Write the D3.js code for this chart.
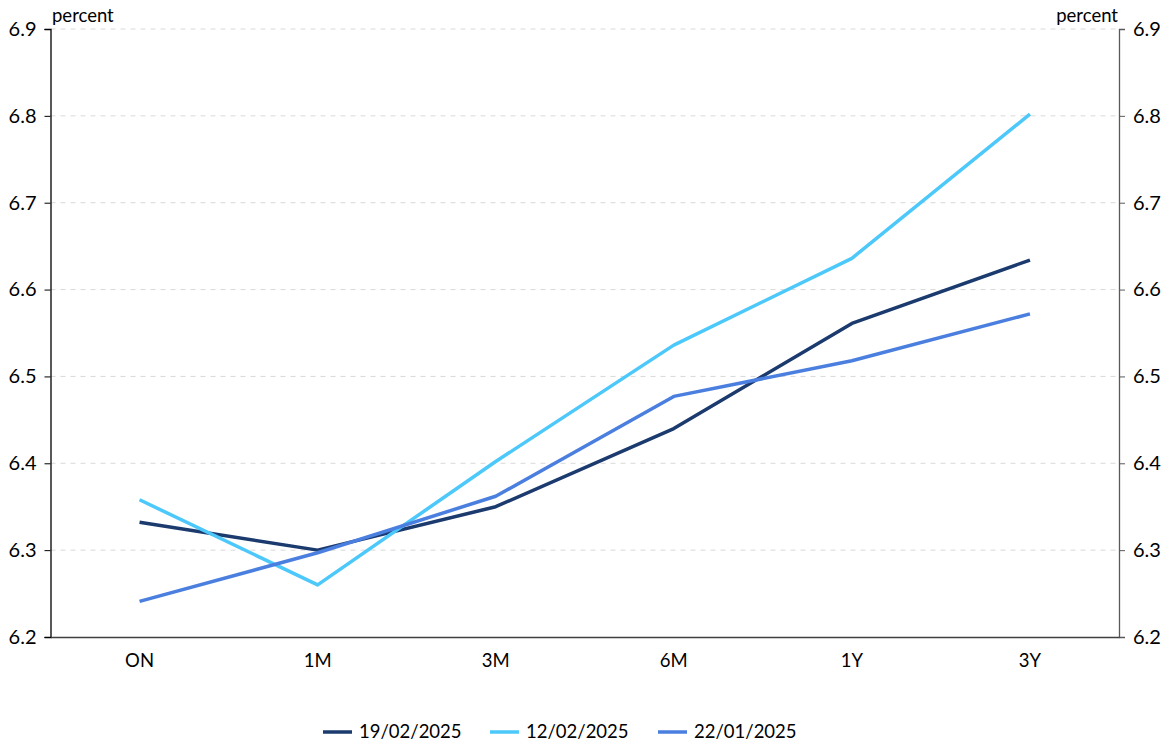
<!DOCTYPE html>
<html>
<head>
<meta charset="utf-8">
<script src="https://cdn.jsdelivr.net/npm/d3@7"></script>
<style>
  html, body { margin: 0; padding: 0; background: #fff; }
  svg text { font-family: Lato, "Open Sans", sans-serif; fill: #000; }
</style>
</head>
<body>
<svg id="chart" width="1170" height="744"></svg>
<script>
const categories = ["ON", "1M", "3M", "6M", "1Y", "3Y"];
const seriesNames = ["19/02/2025", "12/02/2025", "22/01/2025"];
const series19Feb = [6.332, 6.300, 6.350, 6.440, 6.561, 6.634];
const series12Feb = [6.358, 6.260, 6.402, 6.536, 6.636, 6.802];
const series22Jan = [6.241, 6.297, 6.362, 6.477, 6.518, 6.572];
const seriesColors = ["#1b3a6e", "#4dc8fa", "#4a7fdf"];
const yTicks = [6.2, 6.3, 6.4, 6.5, 6.6, 6.7, 6.8, 6.9];
const unitLabel = "percent";

(function () {
const allSeries = [series19Feb, series12Feb, series22Jan];

const svg = d3.select("#chart");
const pLeft = 50.5, pRight = 1119, pTop = 29, pBottom = 637;

const x = d3.scaleBand().domain(categories).range([pLeft, pRight]).padding(0);
const y = d3.scaleLinear().domain([6.2, 6.9]).range([pBottom, pTop]);

// gridlines
svg.append("g").selectAll("line").data(yTicks.filter(t => t > 6.2)).join("line")
  .attr("x1", pLeft).attr("x2", pRight)
  .attr("y1", d => y(d)).attr("y2", d => y(d))
  .attr("stroke", "#d9d9d9").attr("stroke-width", 1)
  .attr("stroke-dasharray", "5,5");

// left axis
const yAxisL = d3.axisLeft(y).tickValues(yTicks).tickFormat(d3.format(".1f")).tickSize(6).tickPadding(8);
const gL = svg.append("g").attr("transform", `translate(${pLeft},0)`).call(yAxisL);
gL.select(".domain").attr("stroke", "#000").attr("stroke-width", 1.3);
gL.selectAll(".tick line").attr("stroke", "#000");
gL.selectAll(".tick text").attr("font-size", 20);

// right axis
const yAxisR = d3.axisRight(y).tickValues(yTicks).tickFormat(d3.format(".1f")).tickSize(6).tickPadding(8);
const gR = svg.append("g").attr("transform", `translate(${pRight},0)`).call(yAxisR);
gR.select(".domain").attr("stroke", "#595959").attr("stroke-width", 1.3);
gR.selectAll(".tick line").attr("stroke", "#595959");
gR.selectAll(".tick text").attr("font-size", 20);

// bottom axis
const xAxis = d3.axisBottom(x).tickSize(0).tickPadding(17);
const gX = svg.append("g").attr("transform", `translate(0,${pBottom})`).call(xAxis);
gX.select(".domain").attr("stroke", "#404040").attr("stroke-width", 1.3);
gX.selectAll(".tick text").attr("font-size", 18.5);

// unit labels
svg.append("text").attr("x", 52).attr("y", 22).attr("font-size", 18.5).text(unitLabel);
svg.append("text").attr("x", 1118).attr("y", 22).attr("font-size", 18.5).attr("text-anchor", "end").text(unitLabel);

// lines
const line = d3.line()
  .x((d, i) => x(categories[i]) + x.bandwidth() / 2)
  .y(d => y(d));

svg.append("g").selectAll("path").data(allSeries).join("path")
  .attr("d", d => line(d))
  .attr("fill", "none")
  .attr("stroke", (d, i) => seriesColors[i])
  .attr("stroke-width", 3.5)
  .attr("stroke-linejoin", "round");

// legend
const legendX = [323, 490, 658];
const lg = svg.append("g").selectAll("g").data(seriesNames).join("g")
  .attr("transform", (d, i) => `translate(${legendX[i]},732)`);
lg.append("line").attr("x1", 0).attr("x2", 29).attr("y1", 0).attr("y2", 0)
  .attr("stroke", (d, i) => seriesColors[i]).attr("stroke-width", 3.5);
lg.append("text").attr("x", 36).attr("y", 0).attr("dy", "0.35em").attr("font-size", 18.5).text(d => d);
})();
</script>
</body>
</html>
